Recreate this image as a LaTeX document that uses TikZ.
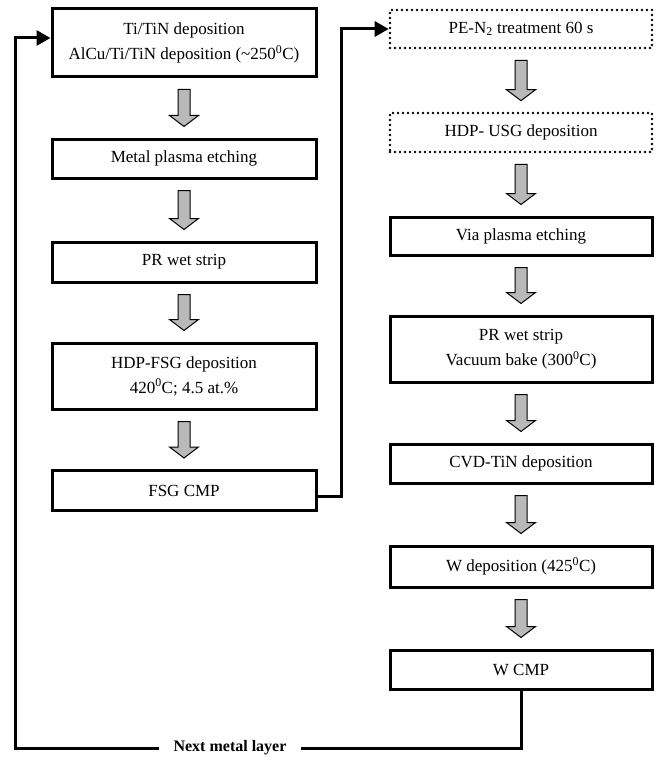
\documentclass[tikz,border=0pt]{standalone}
\usepackage{fontspec}
\setmainfont{Liberation Serif}
\usetikzlibrary{arrows.meta,calc}
\newcommand\bigdown[2]{%
  \draw[bigarr] let \p1=(#1.south), \p2=(#2.north) in
    (\x1-6pt,\y1-11pt) -- (\x1+6pt,\y1-11pt) -- (\x1+6pt,\y2+22pt) --
    (\x1+14.5pt,\y2+22pt) -- (\x1,\y2+11pt) -- (\x1-14.5pt,\y2+22pt) --
    (\x1-6pt,\y2+22pt) -- cycle;}
\begin{document}
\begin{tikzpicture}[x=1pt,y=-1pt,
  box/.style={draw, line width=3pt, minimum width=264pt, minimum height=39pt,
    align=center, inner sep=0pt, font=\fontsize{17}{25}\selectfont},
  rbox/.style={box, minimum width=262pt},
  dotbox/.style={rbox, line width=2.6pt, dash pattern=on 0pt off 5pt, line cap=round},
  bigarr/.style={draw, line width=1pt, fill=gray!55, line join=miter},
  conn/.style={line width=3pt},
  tip/.style={-{Triangle[length=14pt,width=15pt]}}]
\useasboundingbox (0,0) rectangle (659,757);
% left column
\node[box, minimum height=68pt] (l1) at (184,43) {Ti/TiN deposition\\AlCu/Ti/TiN deposition (\textasciitilde 250\textsuperscript{0}C)};
\node[box] (l2) at (184,158.5) {Metal plasma etching};
\node[box, minimum height=40pt] (l3) at (184,262) {PR wet strip};
\node[box, minimum height=66pt] (l4) at (184,376) {HDP-FSG deposition\\420\textsuperscript{0}C; 4.5 at.\%};
\node[box, minimum height=40pt] (l5) at (184,490.5) {FSG CMP};
% right column
\node[dotbox, minimum height=38pt] (r1) at (521,29) {PE-N\textsubscript{2} treatment 60 s};
\node[dotbox] (r2) at (521,132.5) {HDP- USG deposition};
\node[rbox, minimum height=38pt] (r3) at (521,236) {Via plasma etching};
\node[rbox, minimum height=66pt] (r4) at (521,349) {PR wet strip\\Vacuum bake (300\textsuperscript{0}C)};
\node[rbox] (r5) at (521,463.5) {CVD-TiN deposition};
\node[rbox, minimum height=41pt] (r6) at (521,566.5) {W deposition (425\textsuperscript{0}C)};
\node[rbox] (r7) at (521,669.5) {W CMP};
% big arrows
\bigdown{l1}{l2}
\bigdown{l2}{l3}
\bigdown{l3}{l4}
\bigdown{l4}{l5}
\bigdown{r1}{r2}
\bigdown{r2}{r3}
\bigdown{r3}{r4}
\bigdown{r4}{r5}
\bigdown{r5}{r6}
\bigdown{r6}{r7}
% connectors
\coordinate (fx) at (341,0);
\coordinate (fs) at ($(l5.east)+(0,6)$);
\draw[conn, tip] (fs) -- (fs -| fx) |- (r1.west);
\node[font=\bfseries\fontsize{16}{20}\selectfont, inner xsep=14pt, inner ysep=0pt] (next) at (230,748) {Next metal layer};
\coordinate (fl) at (15,748);
\draw[conn] (r7.south) |- (next.east);
\draw[conn, tip] (next.west) -- (fl) |- ($(l1.west)+(0,-5)$);
\end{tikzpicture}
\end{document}
